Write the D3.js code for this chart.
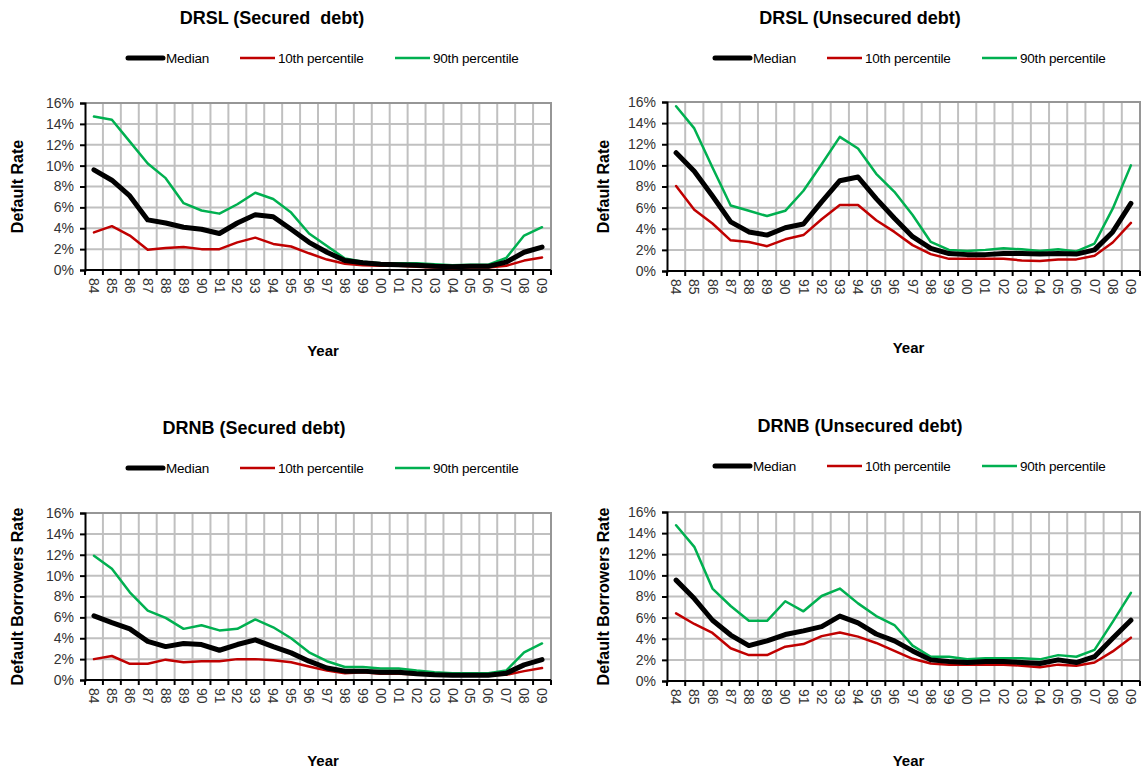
<!DOCTYPE html>
<html><head><meta charset="utf-8">
<script src="https://cdn.jsdelivr.net/npm/d3@7"></script>
<style>
body{margin:0;background:#fff;}
svg text{font-family:"Liberation Sans",Arial,sans-serif;}
</style>
</head><body>
<svg id="c" width="1142" height="771"></svg>
<script>
const years = ["84","85","86","87","88","89","90","91","92","93","94","95","96","97","98","99","00","01","02","03","04","05","06","07","08","09"];
const yTicks = [0,2,4,6,8,10,12,14,16];
const seriesNames = ["Median","10th percentile","90th percentile"];

// DRSL (Secured debt)
const drslSecMedian = [9.6,8.6,7.1,4.8,4.5,4.1,3.9,3.5,4.5,5.3,5.1,3.9,2.65,1.7,0.9,0.7,0.55,0.5,0.45,0.35,0.3,0.35,0.35,0.75,1.7,2.2];
const drslSecP10 = [3.6,4.2,3.3,1.95,2.1,2.2,2.0,2.0,2.65,3.1,2.5,2.25,1.6,1.0,0.6,0.45,0.4,0.4,0.3,0.25,0.2,0.25,0.25,0.4,0.9,1.2];
const drslSecP90 = [14.7,14.4,12.3,10.2,8.8,6.4,5.7,5.4,6.3,7.4,6.8,5.5,3.5,2.3,1.1,0.8,0.65,0.65,0.65,0.55,0.45,0.5,0.5,1.15,3.3,4.1];

// DRSL (Unsecured debt)
const drslUnsMedian = [11.2,9.45,7.1,4.65,3.7,3.4,4.1,4.45,6.55,8.55,8.9,6.85,5.0,3.25,2.15,1.65,1.55,1.55,1.65,1.65,1.6,1.65,1.6,2.0,3.7,6.4];
const drslUnsP10 = [8.05,5.8,4.5,2.9,2.75,2.35,3.0,3.4,4.9,6.25,6.25,4.8,3.7,2.45,1.6,1.15,1.15,1.15,1.15,1.0,0.95,1.1,1.1,1.45,2.7,4.55];
const drslUnsP90 = [15.6,13.5,9.8,6.2,5.7,5.2,5.7,7.6,10.1,12.7,11.6,9.2,7.5,5.3,2.75,2.0,1.9,2.0,2.15,2.05,1.9,2.05,1.85,2.6,5.9,10.0];

// DRNB (Secured debt)
const drnbSecMedian = [6.15,5.5,4.9,3.7,3.2,3.5,3.4,2.85,3.4,3.85,3.2,2.6,1.8,1.15,0.85,0.85,0.75,0.75,0.6,0.5,0.45,0.45,0.45,0.65,1.45,1.95];
const drnbSecP10 = [2.0,2.3,1.55,1.55,1.95,1.7,1.8,1.8,2.0,2.0,1.9,1.7,1.3,0.9,0.65,0.75,0.6,0.6,0.55,0.5,0.45,0.45,0.45,0.5,0.85,1.15];
const drnbSecP90 = [11.9,10.65,8.4,6.65,5.95,4.9,5.25,4.75,4.9,5.8,5.05,4.0,2.65,1.8,1.25,1.25,1.1,1.1,0.9,0.75,0.65,0.65,0.65,0.9,2.65,3.5];

// DRNB (Unsecured debt)
const drnbUnsMedian = [9.55,7.8,5.75,4.35,3.35,3.8,4.4,4.75,5.15,6.15,5.5,4.45,3.8,2.85,2.0,1.85,1.75,1.85,1.85,1.75,1.65,2.0,1.75,2.3,4.05,5.75];
const drnbUnsP10 = [6.4,5.4,4.55,3.1,2.45,2.45,3.25,3.5,4.25,4.6,4.2,3.6,2.85,2.1,1.65,1.55,1.55,1.55,1.55,1.45,1.3,1.55,1.45,1.75,2.8,4.1];
const drnbUnsP90 = [14.75,12.7,8.75,7.1,5.7,5.7,7.55,6.6,8.05,8.75,7.35,6.15,5.3,3.35,2.3,2.3,2.05,2.15,2.15,2.15,2.05,2.45,2.3,2.95,5.6,8.35];

const colors = ["#000000","#c00000","#00b050"];
const widths = [5,2.5,2.5];

const panels = [
  {title:"DRSL (Secured  debt)", yTitle:"Default Rate", data:[drslSecMedian,drslSecP10,drslSecP90],
   x0:85, x1:551, y0:103, y1:270, titleX:272, titleY:24, legY:58, legX:128, yTitleX:23, yearY:356},
  {title:"DRSL (Unsecured debt)", yTitle:"Default Rate", data:[drslUnsMedian,drslUnsP10,drslUnsP90],
   x0:667, x1:1140, y0:102, y1:271, titleX:860, titleY:24, legY:58, legX:715, yTitleX:609, yearY:353},
  {title:"DRNB (Secured debt)", yTitle:"Default Borrowers Rate", data:[drnbSecMedian,drnbSecP10,drnbSecP90],
   x0:85, x1:551, y0:513, y1:680, titleX:254, titleY:434, legY:468, legX:128, yTitleX:23, yearY:766},
  {title:"DRNB (Unsecured debt)", yTitle:"Default Borrowers Rate", data:[drnbUnsMedian,drnbUnsP10,drnbUnsP90],
   x0:667, x1:1140, y0:512, y1:681, titleX:860, titleY:432, legY:466, legX:715, yTitleX:609, yearY:766}
];

const svg = d3.select("#c");

panels.forEach(p => {
  const g = svg.append("g");
  const x = d3.scaleBand().domain(years).range([p.x0, p.x1]).paddingInner(0).paddingOuter(0);
  const y = d3.scaleLinear().domain([0,16]).range([p.y1, p.y0]);

  // horizontal grid
  g.append("g").selectAll("line").data(yTicks.filter(t => t>0 && t<16)).join("line")
    .attr("x1", p.x0).attr("x2", p.x1).attr("y1", d=>y(d)).attr("y2", d=>y(d))
    .attr("stroke","#c0c0c0").attr("stroke-width",2);
  // vertical grid at category boundaries
  g.append("g").selectAll("line").data(years.slice(1)).join("line")
    .attr("x1", d=>x(d)).attr("x2", d=>x(d)).attr("y1", p.y0).attr("y2", p.y1)
    .attr("stroke","#c0c0c0").attr("stroke-width",2);
  // top/right border
  g.append("path").attr("d", `M${p.x0},${p.y0}H${p.x1}V${p.y1}`)
    .attr("fill","none").attr("stroke","#969696").attr("stroke-width",2);

  // y axis
  const yAxis = d3.axisLeft(y).tickValues(yTicks).tickFormat(d=>d+"%").tickSize(5).tickPadding(6);
  const ya = g.append("g").attr("transform",`translate(${p.x0},0)`).call(yAxis);
  ya.select(".domain").attr("stroke","#000").attr("stroke-width",2);
  ya.selectAll(".tick line").attr("stroke","#000").attr("stroke-width",2);
  ya.selectAll("text").attr("font-size",14).attr("fill","#333")
    .attr("font-family","'Liberation Sans',Arial,sans-serif");

  // x axis
  const xa = g.append("g").attr("transform",`translate(0,${p.y1})`);
  xa.append("line").attr("x1",p.x0).attr("x2",p.x1).attr("y1",0).attr("y2",0)
    .attr("stroke","#000").attr("stroke-width",2);
  xa.selectAll("line.tk").data(years.concat(["end"])).join("line").attr("class","tk")
    .attr("x1", (d,i)=> i<years.length ? x(d) : p.x1).attr("x2",(d,i)=> i<years.length ? x(d) : p.x1)
    .attr("y1",0).attr("y2",5).attr("stroke","#000").attr("stroke-width",2);
  xa.selectAll("text").data(years).join("text")
    .attr("transform", d=>`translate(${x(d)+x.bandwidth()/2},8) rotate(90)`)
    .attr("dy","0.35em").attr("text-anchor","start")
    .attr("font-size",14).attr("fill","#333").text(d=>d);

  // lines
  const line = d3.line().x((d,i)=>x(years[i])+x.bandwidth()/2).y(d=>y(d));
  [2,1,0].forEach(k => {
    g.append("path").datum(p.data[k]).attr("d", line)
      .attr("fill","none").attr("stroke",colors[k]).attr("stroke-width",widths[k])
      .attr("stroke-linejoin","round").attr("stroke-linecap","round");
  });

  // title
  g.append("text").attr("x",p.titleX).attr("y",p.titleY).attr("text-anchor","middle")
    .attr("font-size",18).attr("font-weight","bold").attr("fill","#000")
    .style("white-space","pre").text(p.title);

  // legend
  const legOffsets = [0,112,267];
  seriesNames.forEach((n,k) => {
    const lx = p.legX + legOffsets[k];
    g.append("line").attr("x1",lx).attr("x2",lx+35).attr("y1",p.legY).attr("y2",p.legY)
      .attr("stroke",colors[k]).attr("stroke-width",k===0?5:2.5).attr("stroke-linecap",k===0?"round":"butt");
    g.append("text").attr("x",lx+38).attr("y",p.legY).attr("dy","0.35em")
      .attr("font-size",13.5).attr("letter-spacing","-0.2px").attr("fill","#000").text(n);
  });

  // y title
  g.append("text").attr("transform",`translate(${p.yTitleX},${(p.y0+p.y1)/2}) rotate(-90)`)
    .attr("text-anchor","middle").attr("font-size",16).attr("font-weight","bold").text(p.yTitle);

  // x title
  g.append("text").attr("x",(p.x0+p.x1)/2 + 5).attr("y",p.yearY).attr("text-anchor","middle")
    .attr("font-size",15).attr("font-weight","bold").text("Year");
});
</script>
</body></html>
